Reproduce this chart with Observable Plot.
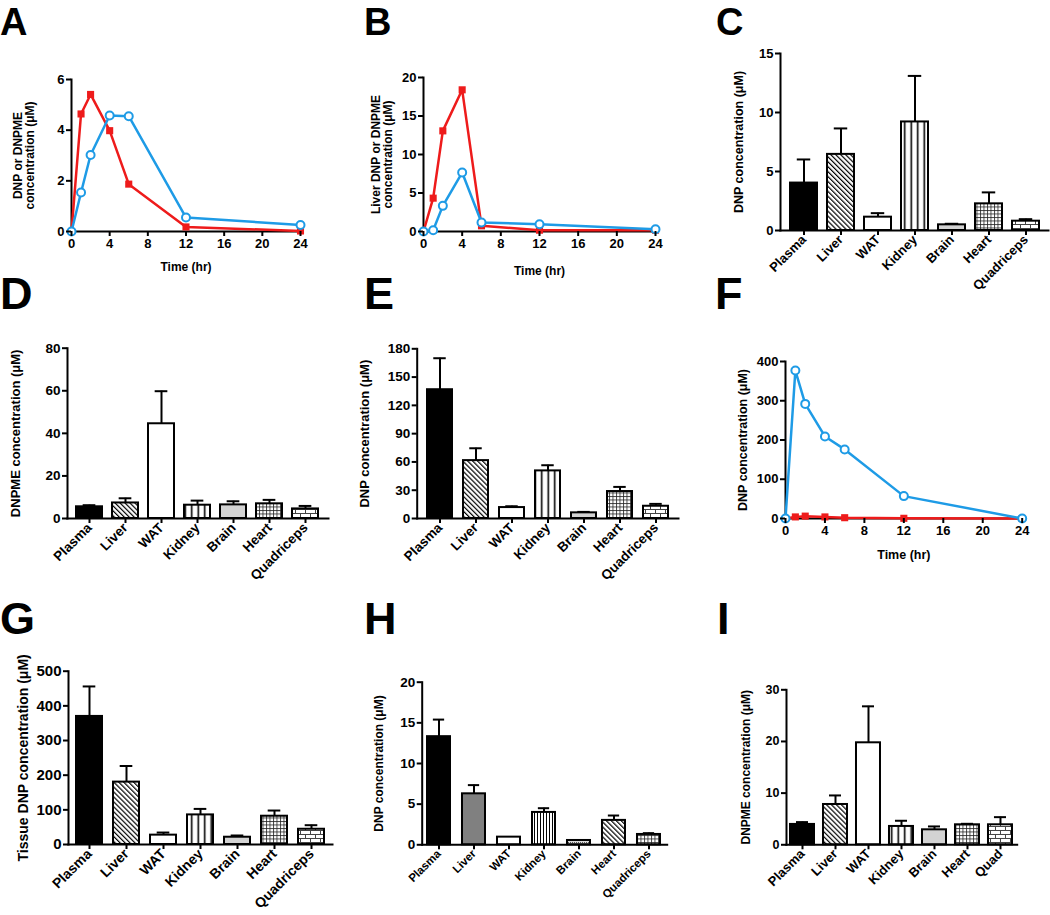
<!DOCTYPE html>
<html><head><meta charset="utf-8">
<script src="https://cdn.jsdelivr.net/npm/d3@7"></script>
<script src="https://cdn.jsdelivr.net/npm/@observablehq/plot@0.6"></script>
<style>
body{margin:0;background:#fff;}
#fig{position:relative;width:1050px;height:915px;overflow:hidden;font-family:"Liberation Sans",Arial,sans-serif;background:#fff;}
.panel{position:absolute;}
.letter{position:absolute;font-weight:bold;line-height:1;font-family:"Liberation Sans",Arial,sans-serif;color:#000;}
</style></head><body>
<svg width="0" height="0" style="position:absolute">
<defs>
<pattern id="hatch" width="3.5" height="3.5" patternUnits="userSpaceOnUse" patternTransform="rotate(-45)">
 <rect width="3.5" height="3.5" fill="#fff"/><line x1="0.6" y1="0" x2="0.6" y2="3.5" stroke="#000" stroke-width="1.2"/>
</pattern>
<pattern id="vstripe" width="6.5" height="10" patternUnits="userSpaceOnUse">
 <rect width="6.5" height="10" fill="#fff"/><line x1="3.25" y1="0" x2="3.25" y2="10" stroke="#000" stroke-width="1.6"/>
</pattern>
<pattern id="grid" width="3.5" height="3.5" patternUnits="userSpaceOnUse">
 <rect width="3.5" height="3.5" fill="#fff"/><path d="M0 0.5H3.5M0.5 0V3.5" stroke="#222" stroke-width="0.8"/>
</pattern>
<pattern id="brick" width="10" height="8" patternUnits="userSpaceOnUse">
 <rect width="10" height="8" fill="#fff"/><path d="M0 0.5H10M0 4.5H10M0.5 0.5V4.5M5.5 4.5V8" stroke="#444" stroke-width="1"/>
</pattern>
<pattern id="finevstripe" width="3" height="6" patternUnits="userSpaceOnUse">
 <rect width="3" height="6" fill="#fff"/><line x1="1.5" y1="0" x2="1.5" y2="6" stroke="#000" stroke-width="1"/>
</pattern>
<pattern id="dots" width="2" height="2" patternUnits="userSpaceOnUse">
 <rect width="2" height="2" fill="#ddd"/><rect width="1" height="1" fill="#555"/>
</pattern>
</defs></svg>
<div id="fig"></div>
<script>
// ---------- data ----------
const times = [0, 1, 2, 4, 6, 12, 24];
const timeTicks = [0, 4, 8, 12, 16, 20, 24];

const aRed  = [0, 4.64, 5.41, 3.98, 1.87, 0.18, 0.02];
const aBlue = [0, 1.54, 3.02, 4.58, 4.55, 0.55, 0.26];
const bRed  = [0, 4.33, 13.07, 18.4, 0.74, 0.17, 0.17];
const bBlue = [0, 0.17, 3.33, 7.66, 1.17, 0.95, 0.3];
const fBlue = [0, 377, 292, 209, 176, 57, 0];
const fRed  = [0, 4, 6, 4, 2, 0.5, 0];

const tissues  = ["Plasma", "Liver", "WAT", "Kidney", "Brain", "Heart", "Quadriceps"];
const tissuesI = ["Plasma", "Liver", "WAT", "Kidney", "Brain", "Heart", "Quad"];

const cMean = [4.02, 6.45, 1.13, 9.2, 0.48, 2.26, 0.79];
const cSem  = [2.0, 2.2, 0.34, 3.9, 0.09, 0.97, 0.17];
const dMean = [5.5, 7.3, 44.5, 6.25, 6.4, 6.9, 4.5];
const dSem  = [0.75, 2.2, 15.3, 2.15, 1.7, 1.85, 1.4];
const eMean = [136.6, 61.4, 11.6, 50.5, 6, 28.6, 13];
const eSem  = [33.4, 13.1, 1.4, 6, 1, 4.9, 2.5];
const gMean = [369.5, 180, 27, 85.4, 21, 81.6, 44];
const gSem  = [86.5, 46.5, 7.5, 17.3, 5, 16.4, 11.7];
const hMean = [13.3, 6.27, 0.94, 3.98, 0.53, 3.0, 1.27];
const hSem  = [2.1, 1.07, 0, 0.52, 0.05, 0.6, 0.16];
const iMean = [3.94, 7.8, 19.74, 3.55, 2.9, 3.87, 3.87];
const iSem  = [0.45, 1.75, 7.06, 1.1, 0.65, 0.19, 1.48];

// ---------- styles ----------
const RED = "#ee1b1b", BLUE = "#1e9be6";
const fillStd = ["#000", "url(#hatch)", "#fff", "url(#vstripe)", "#d3d3d3", "url(#grid)", "url(#brick)"];
const fillH   = ["#000", "#808080", "#fff", "url(#finevstripe)", "url(#dots)", "url(#hatch)", "url(#grid)"];
const FONT = "'Liberation Sans', Arial, sans-serif";
const fmt = d => String(d);
const fig = document.getElementById("fig");

function place(svg, left, top) {
  const d = document.createElement("div");
  d.className = "panel";
  d.style.left = left + "px"; d.style.top = top + "px";
  d.appendChild(svg);
  fig.appendChild(d);
}
function letter(t, left, top, size) {
  const d = document.createElement("div");
  d.className = "letter"; d.textContent = t;
  d.style.left = left + "px"; d.style.top = top + "px"; d.style.fontSize = size + "px";
  fig.appendChild(d);
}
const baseStyle = {background: "transparent", overflow: "visible", fontFamily: FONT, fontWeight: "bold", maxWidth: "none", color: "#000"};

function linePanel(c) {
  const red = times.map((t, i) => ({t, v: c.red[i]}));
  const blue = times.map((t, i) => ({t, v: c.blue[i]}));
  const mb = 60, mr = 15;
  const svg = Plot.plot({
    width: c.x24 - c.left + mr, height: c.yZero - c.top + mb,
    marginLeft: c.x0 - c.left, marginRight: mr, marginTop: c.yTop - c.top, marginBottom: mb,
    style: baseStyle,
    x: {domain: [0, 24]}, y: {domain: [0, c.ymax]},
    marks: [
      Plot.frame({anchor: "left", strokeWidth: 2}),
      Plot.frame({anchor: "bottom", strokeWidth: 2}),
      Plot.line(red, {x: "t", y: "v", stroke: RED, strokeWidth: 2.5}),
      Plot.line(blue, {x: "t", y: "v", stroke: BLUE, strokeWidth: 2.5}),
      Plot.dot(red, {x: "t", y: "v", symbol: "square", fill: RED, r: 4}),
      Plot.dot(blue, {x: "t", y: "v", symbol: "circle", fill: "white", stroke: BLUE, strokeWidth: 2, r: 4}),
      Plot.axisX({ticks: timeTicks, tickFormat: fmt, tickSize: 5, tickPadding: 2, strokeWidth: 2, fontSize: c.tickFont, label: null}),
      Plot.axisY({ticks: c.yTicks, tickFormat: fmt, tickSize: 5, tickPadding: 2, strokeWidth: 2, fontSize: c.tickFont, label: null}),
      Plot.text([c.yLabel], {frameAnchor: "left", rotate: -90, dx: -c.yOff, fontSize: c.labelFont, fontWeight: "bold", lineAnchor: "middle", textAnchor: "middle"}),
      Plot.text(["Time (hr)"], {frameAnchor: "bottom", dy: c.xOff, fontSize: c.labelFont, fontWeight: "bold", lineAnchor: "middle"})
    ]
  });
  place(svg, c.left, c.top);
}

function barPanel(c) {
  const data = c.cats.map((cat, i) => ({cat, mean: c.mean[i], sem: c.sem[i], fill: c.fills[i]}));
  const err = data.filter(d => d.sem > 0);
  const mb = 80, mr = 2;
  const n = c.cats.length;
  const step = (c.xEnd - c.x0) / (n - c.pi + 2 * c.po);
  const bw = step * (1 - c.pi);
  const svg = Plot.plot({
    width: c.xEnd - c.left + mr, height: c.yZero - c.top + mb,
    marginLeft: c.x0 - c.left, marginRight: mr, marginTop: c.yTop - c.top, marginBottom: mb,
    style: baseStyle,
    x: {domain: c.cats, paddingInner: c.pi, paddingOuter: c.po},
    y: {domain: [0, c.ymax]},
    color: {type: "identity"},
    marks: [
      Plot.ruleX(err, {x: "cat", y1: "mean", y2: d => d.mean + d.sem, stroke: "black", strokeWidth: 2}),
      Plot.tickY(err, {x: "cat", y: d => d.mean + d.sem, stroke: "black", strokeWidth: 2, insetLeft: bw * 0.25, insetRight: bw * 0.25}),
      Plot.barY(data, {x: "cat", y: "mean", fill: "fill", stroke: "black", strokeWidth: 2}),
      Plot.frame({anchor: "left", strokeWidth: 2}),
      Plot.frame({anchor: "bottom", strokeWidth: 2}),
      Plot.axisY({ticks: c.yTicks, tickFormat: fmt, tickSize: 5, tickPadding: 2, strokeWidth: 2, fontSize: c.tickFont, label: null}),
      Plot.axisX({tickSize: 5, tickPadding: 2, tickRotate: -45, strokeWidth: 2, fontSize: c.catFont, label: null}),
      Plot.text([c.yLabel], {frameAnchor: "left", rotate: -90, dx: -c.yOff, fontSize: c.labelFont, fontWeight: "bold", lineAnchor: "middle", textAnchor: "middle"})
    ]
  });
  place(svg, c.left, c.top);
}

// A
linePanel({left: 0, top: 0, x0: 71, x24: 300, yTop: 79, yZero: 231, ymax: 6, yTicks: [0, 2, 4, 6],
  red: aRed, blue: aBlue, tickFont: 13, labelFont: 12, yOff: 47, xOff: 36,
  yLabel: "DNP or DNPME\nconcentration (μM)"});
// B
linePanel({left: 350, top: 0, x0: 423, x24: 655, yTop: 77, yZero: 231, ymax: 20, yTicks: [0, 5, 10, 15, 20],
  red: bRed, blue: bBlue, tickFont: 13, labelFont: 12, yOff: 41, xOff: 40,
  yLabel: "Liver DNP or DNPME\nconcentration (μM)"});
// C
barPanel({left: 700, top: 0, x0: 780, xEnd: 1048, yTop: 53, yZero: 230, ymax: 15, yTicks: [0, 5, 10, 15],
  cats: tissues, mean: cMean, sem: cSem, fills: fillStd, pi: 0.28, po: 0.2,
  tickFont: 13, catFont: 13, labelFont: 12.5, yOff: 42, yLabel: "DNP concentration (μM)"});
// D
barPanel({left: 0, top: 265, x0: 67, xEnd: 328, yTop: 347.7, yZero: 518, ymax: 80, yTicks: [0, 20, 40, 60, 80],
  cats: tissues, mean: dMean, sem: dSem, fills: fillStd, pi: 0.27, po: 0.21,
  tickFont: 13.5, catFont: 13.5, labelFont: 13, yOff: 52, yLabel: "DNPME concentration (μM)"});
// E
barPanel({left: 350, top: 265, x0: 416.7, xEnd: 678, yTop: 348.3, yZero: 518, ymax: 180, yTicks: [0, 30, 60, 90, 120, 150, 180],
  cats: tissues, mean: eMean, sem: eSem, fills: fillStd, pi: 0.31, po: 0.25,
  tickFont: 13.5, catFont: 13.5, labelFont: 13, yOff: 52, yLabel: "DNP concentration (μM)"});
// F
linePanel({left: 700, top: 265, x0: 785, x24: 1021.7, yTop: 361, yZero: 518, ymax: 400, yTicks: [0, 100, 200, 300, 400],
  red: fRed, blue: fBlue, tickFont: 13, labelFont: 12.5, yOff: 43, xOff: 37,
  yLabel: "DNP concentration (μM)"});
// G
barPanel({left: 0, top: 590, x0: 68, xEnd: 332, yTop: 670.7, yZero: 844, ymax: 500, yTicks: [0, 100, 200, 300, 400, 500],
  cats: tissues, mean: gMean, sem: gSem, fills: fillStd, pi: 0.285, po: 0.17,
  tickFont: 15, catFont: 14, labelFont: 14, yOff: 45, yLabel: "Tissue DNP concentration (μM)"});
// H
barPanel({left: 350, top: 590, x0: 421.7, xEnd: 666.7, yTop: 681.7, yZero: 844.3, ymax: 20, yTicks: [0, 5, 10, 15, 20],
  cats: tissues, mean: hMean, sem: hSem, fills: fillH, pi: 0.33, po: 0.165,
  tickFont: 13.5, catFont: 11.5, labelFont: 12, yOff: 42.7, yLabel: "DNP concentration (μM)"});
// I
barPanel({left: 700, top: 590, x0: 786, xEnd: 1016.7, yTop: 689.3, yZero: 844.3, ymax: 30, yTicks: [0, 10, 20, 30],
  cats: tissuesI, mean: iMean, sem: iSem, fills: fillStd, pi: 0.28, po: 0.115,
  tickFont: 12.5, catFont: 13, labelFont: 12, yOff: 40, yLabel: "DNPME concentration (μM)"});

// panel letters
letter("A", 0, 3, 38); letter("B", 364, 3, 38); letter("C", 716, 3, 38);
letter("D", 0, 271, 45); letter("E", 364, 271, 45); letter("F", 715, 271, 45);
letter("G", 0, 596, 45); letter("H", 364, 596, 45); letter("I", 717, 596, 45);
</script>
</body></html>
